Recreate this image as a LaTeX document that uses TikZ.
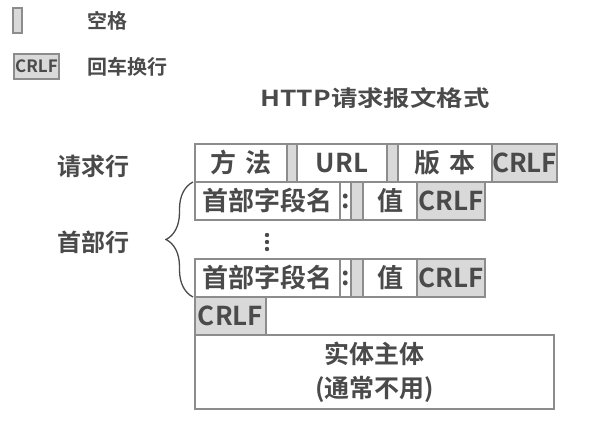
\documentclass[tikz,border=0pt]{standalone}
\usepackage{fontspec}
\setmainfont{Noto Sans CJK SC Bold}
\newfontfamily\titlefont{Noto Sans CJK SC Bold}[FakeStretch=1.2]
\usetikzlibrary{positioning,decorations.pathreplacing}
\definecolor{cellgray}{HTML}{D9D9D9}
\definecolor{linegray}{HTML}{8C8C8C}
\definecolor{textgray}{HTML}{4A4A4A}

\begin{document}
\begin{tikzpicture}[x=1pt, y=-1pt, line width=1.2pt,
  every node/.append style={text=textgray, inner sep=0pt, outer sep=0pt},
  cell/.style={draw=linegray, minimum height=38pt, font=\fontsize{26}{26}\selectfont},
  gap/.style={cell, fill=cellgray},
  crlf/.style={cell, fill=cellgray}]
  \useasboundingbox (0,0) rectangle (605,443);
  % legenda
  \node[gap, minimum width=9pt, minimum height=25pt, anchor=north west] (spkey) at (13,8) {};
  \node[right=65pt of spkey, font=\fontsize{20}{20}\selectfont] (spnote) {空格};
  \node[crlf, minimum width=45pt, minimum height=25pt, anchor=north west, font=\fontsize{17}{17}\selectfont] (crlfkey) at (14,54) {CRLF};
  \node[right=28pt of crlfkey, font=\fontsize{20}{20}\selectfont] (crlfnote) {回车换行};
  \node[font=\titlefont\fontsize{22}{22}\selectfont] (title) at (375,98) {HTTP请求报文格式};
  % riga di richiesta
  \node[cell, minimum width=92pt, anchor=north west] (method) at (195,144) {方\hspace{10pt}法};
  \node[gap, minimum width=10pt, right=0pt of method] (sp1) {};
  \node[cell, minimum width=90pt, right=0pt of sp1] (url) {URL};
  \node[gap, minimum width=11pt, right=0pt of url] (sp2) {};
  \node[cell, minimum width=94pt, right=0pt of sp2] (version) {版\hspace{10pt}本};
  \node[crlf, minimum width=61pt, right=0pt of version] (crlf0) {CRLF};
  % righe di intestazione
  \foreach \y/\i in {182/1,259/2} {
    \node[cell, minimum width=145pt, anchor=north west] (field\i) at (195,\y) {首部字段名};
    \node[cell, minimum width=11pt, right=0pt of field\i] (colon\i) {:};
    \node[gap, minimum width=12pt, right=0pt of colon\i] (hsp\i) {};
    \node[cell, minimum width=54pt, right=0pt of hsp\i] (value\i) {值};
    \node[crlf, minimum width=68pt, right=0pt of value\i] (hcrlf\i) {CRLF};
  }
  \foreach \y in {235,242,249}
    \fill[textgray] (267,\y) circle (2.2);
  % riga vuota e corpo
  \node[crlf, minimum width=71pt, anchor=north west] (endcrlf) at (field2.south west) {CRLF};
  \node[cell, minimum width=359pt, minimum height=74pt, anchor=north west, align=center,
        font=\fontsize{25}{34}\selectfont] (body) at (endcrlf.south west) {实体主体\\(通常不用)};
  % etichette
  \node[font=\fontsize{24}{24}\selectfont] (reqline) at (93,166) {请求行};
  \node[font=\fontsize{24}{24}\selectfont] (headline) at (93,242) {首部行};
  \draw[textgray, line width=1.3pt, decorate, decoration={brace, amplitude=27pt}]
    ([xshift=-2pt]field2.south west) -- ([xshift=-2pt]field1.north west);
\end{tikzpicture}
\end{document}
